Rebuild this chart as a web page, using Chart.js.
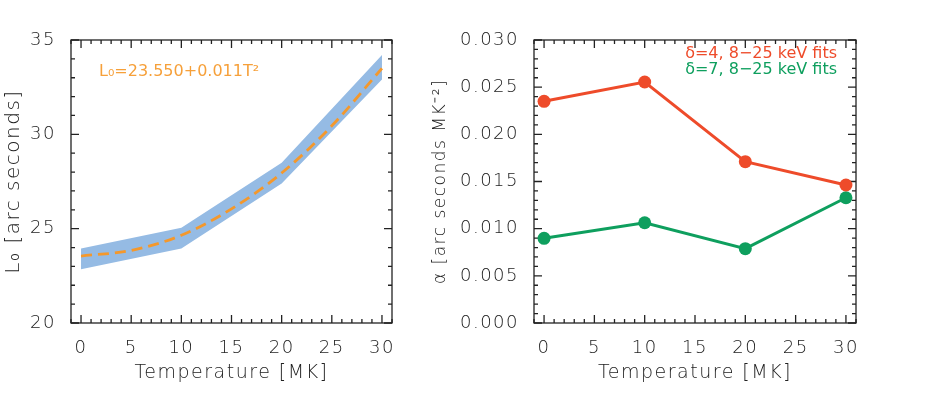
<!DOCTYPE html>
<html>
<head>
<meta charset="utf-8">
<script src="https://cdn.jsdelivr.net/npm/chart.js@4.4.1/dist/chart.umd.min.js"></script>
<style>
  html, body { margin: 0; padding: 0; background: #fff; }
  #wrap { position: relative; width: 926px; height: 405px; }
  #izq { position: absolute; left: 0; top: 0; }
  #der { position: absolute; left: 420px; top: 0; }
</style>
</head>
<body>
<div id="wrap">
  <canvas id="izq" width="463" height="405"></canvas>
  <canvas id="der" width="506" height="405"></canvas>
</div>
<script>
// datos
var xTicks = [0, 5, 10, 15, 20, 25, 30];
var yTicksL = [20, 25, 30, 35];
var yTicksR = [0, 0.005, 0.010, 0.015, 0.020, 0.025, 0.030];

var bandaT = [0, 10, 20, 30];
var bandaSup = [23.95, 25.05, 28.5, 34.2];
var bandaInf = [22.85, 23.95, 27.4, 32.9];

var ajusteT = [0, 5, 10, 15, 20, 25, 30];
var ajusteL = [23.55, 23.85, 24.65, 26.05, 27.95, 30.45, 33.5];

var temps = [0, 10, 20, 30];
var alfaD4 = [0.0235, 0.02555, 0.0171, 0.01463];
var alfaD7 = [0.00898, 0.01063, 0.00788, 0.01328];

var fuente = 'DejaVu Sans';
var tinta = '#222';

function pares(xs, ys) {
    return xs.map(function (v, i) { return {x: v, y: ys[i]} });
}

// marco y marcas hacia adentro, estilo IDL
var marcoIDL = {
    id: 'marcoIDL',
    beforeDraw: function (chart) {
        chart.ctx.letterSpacing = '1.5px';
    },
    beforeDatasetsDraw: function (chart, args, opts) {
        var ctx = chart.ctx, a = chart.chartArea;
        ctx.save();
        ctx.strokeStyle = tinta;
        ctx.lineWidth = 1.3;
        ctx.strokeRect(a.left, a.top, a.right - a.left, a.bottom - a.top);
        function marcas(scale, paso, cada, horiz) {
            var k0 = Math.ceil(scale.min / paso - 1e-6), k1 = Math.floor(scale.max / paso + 1e-6);
            for (var k = k0; k <= k1; k++) {
                var p = scale.getPixelForValue(k * paso);
                var len = (k % cada === 0) ? 8 : 4;
                ctx.beginPath();
                if (horiz) {
                    ctx.moveTo(p, a.bottom); ctx.lineTo(p, a.bottom - len);
                    ctx.moveTo(p, a.top); ctx.lineTo(p, a.top + len);
                } else {
                    ctx.moveTo(a.left, p); ctx.lineTo(a.left + len, p);
                    ctx.moveTo(a.right, p); ctx.lineTo(a.right - len, p);
                }
                ctx.stroke();
            }
        }
        marcas(chart.scales.x, opts.pasoX, 5, true);
        marcas(chart.scales.y, opts.pasoY, 5, false);
        ctx.restore();
    },
    afterDraw: function (chart, args, opts) {
        var ctx = chart.ctx, a = chart.chartArea;
        ctx.save();
        ctx.letterSpacing = '0px';
        ctx.font = '16px "' + fuente + '"';
        ctx.textBaseline = 'middle';
        (opts.textos || []).forEach(function (t) {
            ctx.fillStyle = t.color;
            ctx.textAlign = t.align;
            ctx.fillText(t.text, t.align === 'right' ? a.right - t.dx : a.left + t.dx, a.top + t.dy);
        });
        ctx.restore();
    }
};

function ejes(yMin, yMax, yTicks, anchoY, tituloY, tamTitulo, padTitulo, fmt) {
    return {
        x: {
            type: 'linear', min: -1, max: 31,
            afterBuildTicks: function (s) { s.ticks = xTicks.map(function (v) { return {value: v} }) },
            afterFit: function (s) { s.height = 82 },
            grid: {display: false},
            border: {display: false},
            ticks: {color: tinta, padding: 7, font: {family: fuente, size: 18, weight: '200'}},
            title: {display: true, text: 'Temperature [MK]', color: tinta,
                    font: {family: fuente, size: 19, weight: '200'}, padding: {top: 0, bottom: 21}}
        },
        y: {
            type: 'linear', min: yMin, max: yMax,
            afterBuildTicks: function (s) { s.ticks = yTicks.map(function (v) { return {value: v} }) },
            afterFit: function (s) { s.width = anchoY },
            grid: {display: false},
            border: {display: false},
            ticks: {color: tinta, padding: 7, font: {family: fuente, size: 18, weight: '200'}, callback: fmt},
            title: {display: true, text: tituloY, color: tinta,
                    font: {family: fuente, size: tamTitulo, weight: '200'}, padding: {top: padTitulo, bottom: 0}}
        }
    };
}

var graficaIzq = new Chart(document.getElementById('izq').getContext('2d'), {
    type: 'line',
    data: {
        datasets: [
            {label: 'inf', data: pares(bandaT, bandaInf), borderWidth: 0, pointRadius: 0, fill: false, tension: 0, order: 2},
            {label: 'sup', data: pares(bandaT, bandaSup), borderWidth: 0, pointRadius: 0, tension: 0, order: 1,
             fill: '-1', backgroundColor: '#95BBE4'},
            {label: 'ajuste', data: pares(ajusteT, ajusteL), borderColor: '#F4982C', borderWidth: 2.8, order: 0,
             borderDash: [11, 6], pointRadius: 0, fill: false, cubicInterpolationMode: 'monotone'}
        ]
    },
    options: {
        responsive: false,
        animation: false,
        layout: {padding: {top: 40, right: 71, left: 0, bottom: 0}},
        plugins: {
            legend: {display: false},
            tooltip: {enabled: false},
            marcoIDL: {pasoX: 1, pasoY: 1, textos: [
                {text: 'L₀=23.550+0.011T²', color: '#F6A03A', align: 'left', dx: 28, dy: 32}
            ]}
        },
        scales: ejes(20, 35, yTicksL, 71, 'L₀ [arc seconds]', 20, 2, function (v) { return v })
    },
    plugins: [marcoIDL]
});

var graficaDer = new Chart(document.getElementById('der').getContext('2d'), {
    type: 'line',
    data: {
        datasets: [
            {label: 'δ=4, 8−25 keV fits', data: pares(temps, alfaD4), borderColor: '#EE4B2A', backgroundColor: '#EE4B2A',
             borderWidth: 3, pointRadius: 6.5, pointBorderWidth: 0, fill: false, tension: 0},
            {label: 'δ=7, 8−25 keV fits', data: pares(temps, alfaD7), borderColor: '#0E9F5E', backgroundColor: '#0E9F5E',
             borderWidth: 3, pointRadius: 6.5, pointBorderWidth: 0, fill: false, tension: 0}
        ]
    },
    options: {
        responsive: false,
        animation: false,
        layout: {padding: {top: 40, right: 70, left: 0, bottom: 0}},
        plugins: {
            legend: {display: false},
            tooltip: {enabled: false},
            marcoIDL: {pasoX: 1, pasoY: 0.001, textos: [
                {text: 'δ=4, 8−25 keV fits', color: '#EE4B2A', align: 'right', dx: 19, dy: 14},
                {text: 'δ=7, 8−25 keV fits', color: '#0E9F5E', align: 'right', dx: 19, dy: 30}
            ]}
        },
        scales: ejes(0, 0.03, yTicksR, 114, 'α [arc seconds MK⁻²]', 17, 10, function (v) { return v.toFixed(3) })
    },
    plugins: [marcoIDL]
});
</script>
</body>
</html>
